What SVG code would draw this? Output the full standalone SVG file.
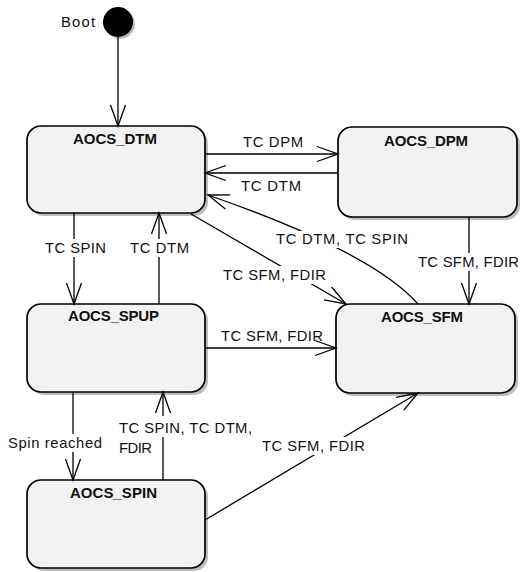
<svg xmlns="http://www.w3.org/2000/svg" width="521" height="572" viewBox="0 0 521 572">
<style>
.box{fill:#f2f2f2;stroke:#000;stroke-width:1.7}
.sh{fill:#bdbdbd}
.t{font-family:"Liberation Sans",Arial,sans-serif;font-size:14.8px;fill:#111}
.b{font-weight:bold;font-size:15px}
.c{fill:none;stroke:#000;stroke-width:1.3}
.bg{fill:#fff}
</style>
<defs>
<marker id="ah" markerUnits="userSpaceOnUse" markerWidth="30" markerHeight="20" viewBox="-24 -10 26 20" refX="0" refY="0" orient="auto">
<path d="M-21,-7.5 L0,0 L-21,7.5" fill="none" stroke="#000" stroke-width="1.3"/>
</marker>
</defs>
<g id="boot">
<circle cx="120" cy="24" r="15" class="sh"/>
<circle cx="118" cy="22" r="15" fill="#000"/>
<text class="t" x="61" y="26.5" textLength="34">Boot</text>
</g>
<g id="aocs_dtm">
<rect x="30" y="129" width="178" height="87" rx="14" class="sh"/>
<rect x="27" y="126" width="178" height="87" rx="14" class="box"/>
<text class="t b" x="73" y="143.5" textLength="84">AOCS_DTM</text>
</g>
<g id="aocs_dpm">
<rect x="341" y="130" width="179" height="90" rx="14" class="sh"/>
<rect x="338" y="127" width="179" height="90" rx="14" class="box"/>
<text class="t b" x="384" y="145.5" textLength="84">AOCS_DPM</text>
</g>
<g id="aocs_spup">
<rect x="30" y="307" width="178" height="88" rx="14" class="sh"/>
<rect x="27" y="304" width="178" height="88" rx="14" class="box"/>
<text class="t b" x="68" y="321" textLength="91">AOCS_SPUP</text>
</g>
<g id="aocs_sfm">
<rect x="339" y="307" width="179" height="89" rx="14" class="sh"/>
<rect x="336" y="304" width="179" height="89" rx="14" class="box"/>
<text class="t b" x="381" y="322" textLength="82">AOCS_SFM</text>
</g>
<g id="aocs_spin">
<rect x="30" y="483" width="178" height="88" rx="14" class="sh"/>
<rect x="27" y="480" width="178" height="88" rx="14" class="box"/>
<text class="t b" x="70" y="497.5" textLength="87">AOCS_SPIN</text>
</g>
<g id="connectors">
<line class="c" x1="118" y1="37" x2="118" y2="126" marker-end="url(#ah)"/>
<line class="c" x1="205" y1="154" x2="338" y2="154" marker-end="url(#ah)"/>
<line class="c" x1="338" y1="173" x2="205" y2="173" marker-end="url(#ah)"/>
<path class="c" d="M418,304 Q372,252 208,195" marker-end="url(#ah)"/>
<line class="c" x1="191" y1="214" x2="346" y2="304" marker-end="url(#ah)"/>
<line class="c" x1="469" y1="217" x2="469" y2="304" marker-end="url(#ah)"/>
<line class="c" x1="74" y1="213" x2="74" y2="304" marker-end="url(#ah)"/>
<line class="c" x1="159" y1="304" x2="159" y2="213" marker-end="url(#ah)"/>
<line class="c" x1="205" y1="348" x2="336" y2="348" marker-end="url(#ah)"/>
<line class="c" x1="73" y1="392" x2="73" y2="480" marker-end="url(#ah)"/>
<line class="c" x1="163" y1="480" x2="163" y2="392" marker-end="url(#ah)"/>
<line class="c" x1="205" y1="520" x2="418" y2="393" marker-end="url(#ah)"/>
<rect class="bg" x="272" y="231" width="140" height="17"/>
<rect class="bg" x="220" y="266" width="109" height="18"/>
<rect class="bg" x="415" y="253" width="106" height="18"/>
<rect class="bg" x="43" y="239" width="66" height="18"/>
<rect class="bg" x="127" y="239" width="65" height="18"/>
<rect class="bg" x="6" y="434" width="99" height="18"/>
<rect class="bg" x="117" y="416" width="138" height="21"/>
<rect class="bg" x="259" y="437" width="109" height="18"/>
<text class="t" x="243" y="147" textLength="60">TC DPM</text>
<text class="t" x="241" y="191" textLength="60">TC DTM</text>
<text class="t" x="276" y="244" textLength="132">TC DTM, TC SPIN</text>
<text class="t" x="223" y="280" textLength="103">TC SFM, FDIR</text>
<text class="t" x="418" y="267" textLength="101">TC SFM, FDIR</text>
<text class="t" x="45" y="253" textLength="61">TC SPIN</text>
<text class="t" x="130" y="253" textLength="59">TC DTM</text>
<text class="t" x="221" y="341" textLength="102">TC SFM, FDIR</text>
<text class="t" x="8" y="448" textLength="94">Spin reached</text>
<text class="t" x="119" y="433" textLength="133">TC SPIN, TC DTM,</text>
<text class="t" x="119" y="453" textLength="33">FDIR</text>
<text class="t" x="262" y="451" textLength="103">TC SFM, FDIR</text>
</g>
</svg>
